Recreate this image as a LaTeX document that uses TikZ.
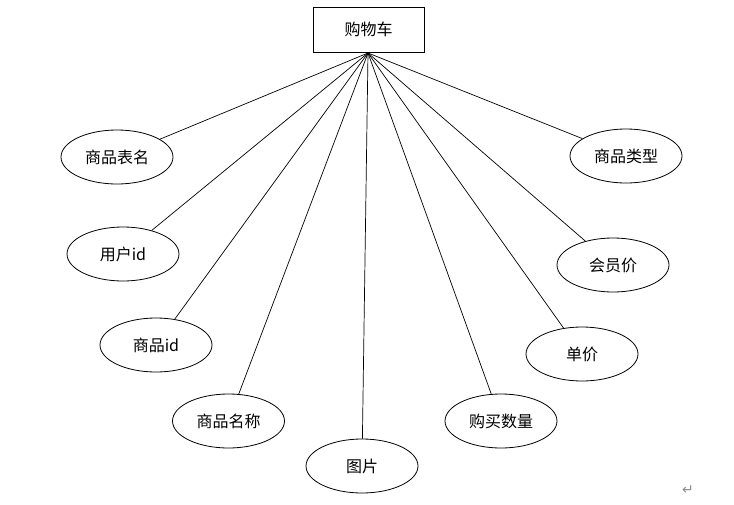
\documentclass[tikz,border=0pt]{standalone}
\usepackage{fontspec}
\newfontfamily\cjkfont{Noto Sans CJK SC}
\newfontfamily\symfont{DejaVu Sans}
\usetikzlibrary{shapes.geometric}
\tikzset{
  attr/.style={ellipse, draw, line width=0.8pt, minimum width=112pt, minimum height=54pt, inner sep=0pt, font=\cjkfont\fontsize{16}{19}\selectfont},
  entity/.style={rectangle, draw, line width=0.9pt, minimum width=111pt, minimum height=45pt, inner sep=0pt, font=\cjkfont\fontsize{16}{19}\selectfont},
  link/.style={line width=0.7pt}
}
\begin{document}
\begin{tikzpicture}[x=1pt,y=-1pt]
\useasboundingbox (0,0) rectangle (734,504);
\node[entity] (cart) at (368.5,29.5) {购物车};
\coordinate (apex) at (368,53);
\node[attr] (a1) at (117,157) {商品表名};
\node[attr] (a2) at (123,254) {用户id};
\node[attr] (a3) at (156,345) {商品id};
\node[attr] (a4) at (228.5,421) {商品名称};
\node[attr] (a5) at (362,466) {图片};
\node[attr] (a6) at (501,421) {购买数量};
\node[attr] (a7) at (582,354) {单价};
\node[attr] (a8) at (613,265) {会员价};
\node[attr] (a9) at (626,156) {商品类型};
\foreach \n in {a1,a2,a3,a4,a5,a6,a7,a8,a9}
  \draw[link] (apex) -- (\n);
\node[font=\symfont\fontsize{14}{16}\selectfont, text=black!45, inner sep=0pt] (ret) at (688,490) {↵};
\end{tikzpicture}
\end{document}
